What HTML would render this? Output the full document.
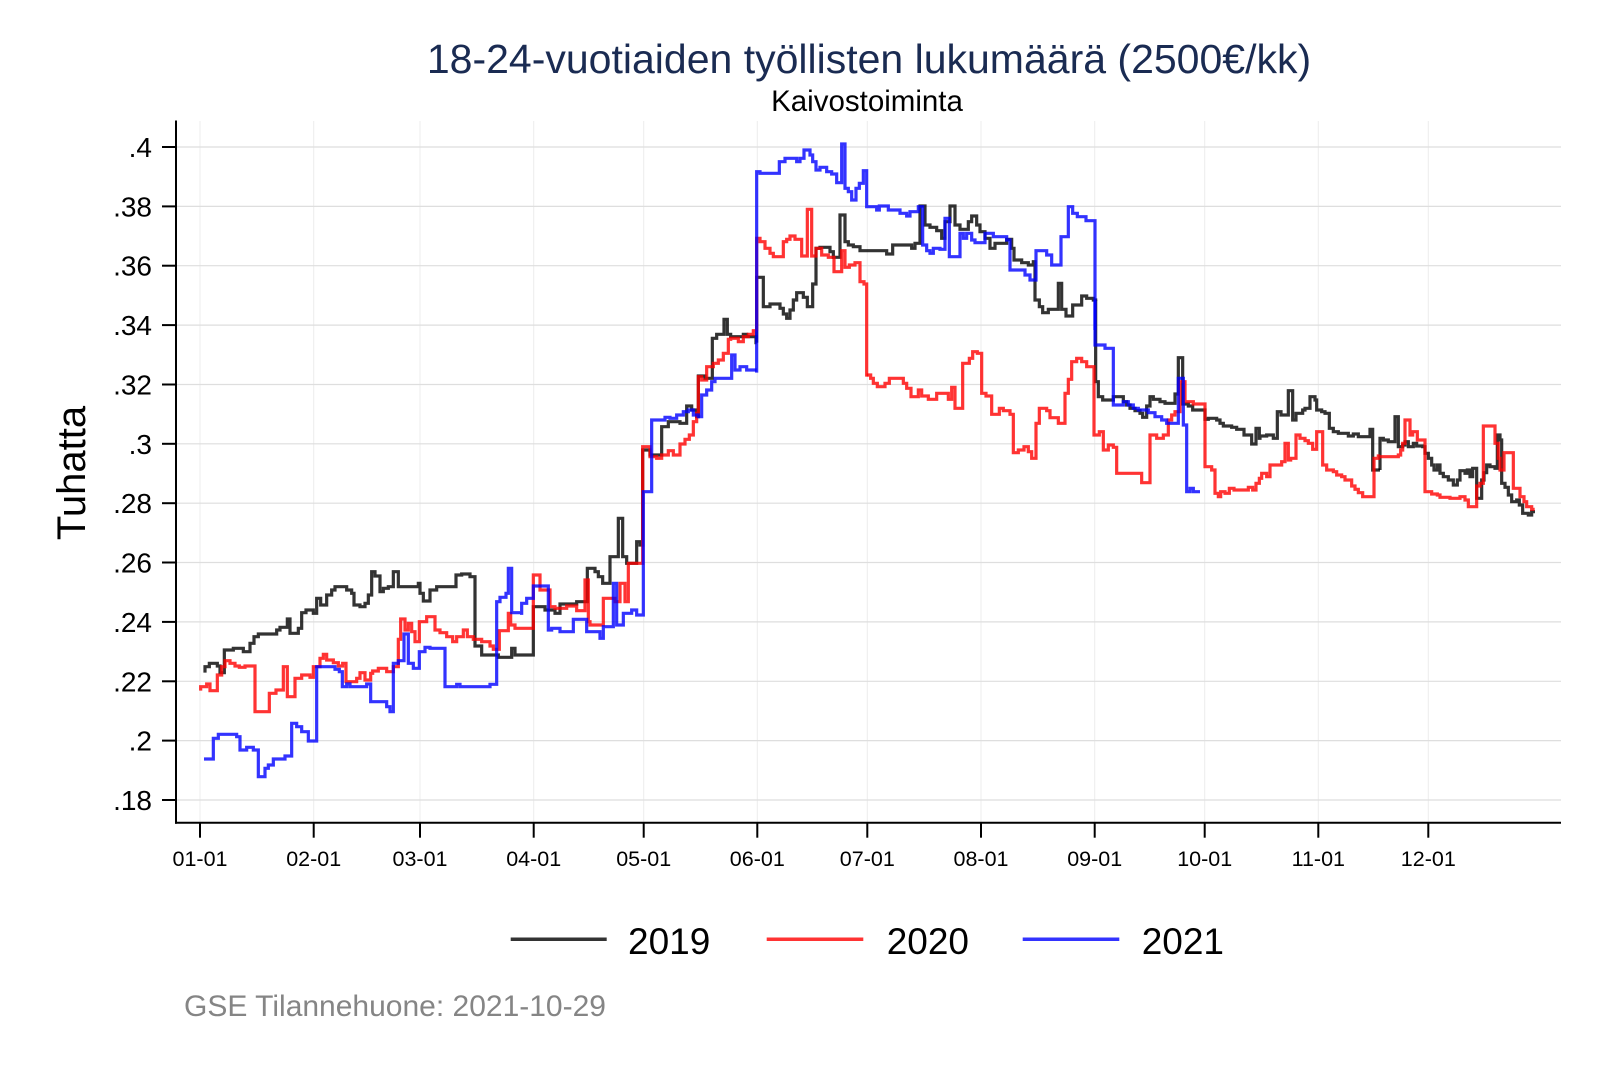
<!DOCTYPE html>
<html>
<head>
<meta charset="utf-8">
<style>
  html, body { margin: 0; padding: 0; background: #ffffff; }
  svg { display: block; }
  text { font-family: "Liberation Sans", Arial, sans-serif; }
</style>
</head>
<body>
<svg width="1600" height="1067" viewBox="0 0 1600 1067" xmlns="http://www.w3.org/2000/svg">
  <rect x="0" y="0" width="1600" height="1067" fill="#ffffff"/>

  <!-- Title -->
  <text x="869" y="73" font-size="41" fill="#1a2b52" text-anchor="middle">18-24-vuotiaiden työllisten lukumäärä (2500€/kk)</text>
  <text x="867" y="111" font-size="29.5" fill="#000" text-anchor="middle">Kaivostoiminta</text>

  <!-- Vertical gridlines -->
  <g stroke="#ececec" stroke-width="1">
    <line x1="200" y1="121" x2="200" y2="822"/>
    <line x1="313.7" y1="121" x2="313.7" y2="822"/>
    <line x1="420" y1="121" x2="420" y2="822"/>
    <line x1="533.7" y1="121" x2="533.7" y2="822"/>
    <line x1="643.7" y1="121" x2="643.7" y2="822"/>
    <line x1="757.3" y1="121" x2="757.3" y2="822"/>
    <line x1="867.3" y1="121" x2="867.3" y2="822"/>
    <line x1="981" y1="121" x2="981" y2="822"/>
    <line x1="1094.7" y1="121" x2="1094.7" y2="822"/>
    <line x1="1204.7" y1="121" x2="1204.7" y2="822"/>
    <line x1="1318.3" y1="121" x2="1318.3" y2="822"/>
    <line x1="1428.3" y1="121" x2="1428.3" y2="822"/>
  </g>
  <!-- Horizontal gridlines -->
  <g stroke="#dedede" stroke-width="1.2">
    <line x1="176" y1="147" x2="1561" y2="147"/>
    <line x1="176" y1="206.4" x2="1561" y2="206.4"/>
    <line x1="176" y1="265.7" x2="1561" y2="265.7"/>
    <line x1="176" y1="325.1" x2="1561" y2="325.1"/>
    <line x1="176" y1="384.5" x2="1561" y2="384.5"/>
    <line x1="176" y1="443.8" x2="1561" y2="443.8"/>
    <line x1="176" y1="503.2" x2="1561" y2="503.2"/>
    <line x1="176" y1="562.5" x2="1561" y2="562.5"/>
    <line x1="176" y1="621.9" x2="1561" y2="621.9"/>
    <line x1="176" y1="681.3" x2="1561" y2="681.3"/>
    <line x1="176" y1="740.6" x2="1561" y2="740.6"/>
    <line x1="176" y1="800" x2="1561" y2="800"/>
  </g>

  <!-- Axes -->
  <g stroke="#000" stroke-width="2">
    <line x1="176" y1="120.5" x2="176" y2="823.7"/>
    <line x1="175" y1="822.7" x2="1561" y2="822.7"/>
    <!-- y ticks -->
    <line x1="162" y1="147" x2="176" y2="147"/>
    <line x1="162" y1="206.4" x2="176" y2="206.4"/>
    <line x1="162" y1="265.7" x2="176" y2="265.7"/>
    <line x1="162" y1="325.1" x2="176" y2="325.1"/>
    <line x1="162" y1="384.5" x2="176" y2="384.5"/>
    <line x1="162" y1="443.8" x2="176" y2="443.8"/>
    <line x1="162" y1="503.2" x2="176" y2="503.2"/>
    <line x1="162" y1="562.5" x2="176" y2="562.5"/>
    <line x1="162" y1="621.9" x2="176" y2="621.9"/>
    <line x1="162" y1="681.3" x2="176" y2="681.3"/>
    <line x1="162" y1="740.6" x2="176" y2="740.6"/>
    <line x1="162" y1="800" x2="176" y2="800"/>
    <!-- x ticks -->
    <line x1="200" y1="822.7" x2="200" y2="837.7"/>
    <line x1="313.7" y1="822.7" x2="313.7" y2="837.7"/>
    <line x1="420" y1="822.7" x2="420" y2="837.7"/>
    <line x1="533.7" y1="822.7" x2="533.7" y2="837.7"/>
    <line x1="643.7" y1="822.7" x2="643.7" y2="837.7"/>
    <line x1="757.3" y1="822.7" x2="757.3" y2="837.7"/>
    <line x1="867.3" y1="822.7" x2="867.3" y2="837.7"/>
    <line x1="981" y1="822.7" x2="981" y2="837.7"/>
    <line x1="1094.7" y1="822.7" x2="1094.7" y2="837.7"/>
    <line x1="1204.7" y1="822.7" x2="1204.7" y2="837.7"/>
    <line x1="1318.3" y1="822.7" x2="1318.3" y2="837.7"/>
    <line x1="1428.3" y1="822.7" x2="1428.3" y2="837.7"/>
  </g>

  <!-- Y tick labels -->
  <g font-size="28" fill="#000" text-anchor="end">
    <text x="152" y="157">.4</text>
    <text x="152" y="216.4">.38</text>
    <text x="152" y="275.7">.36</text>
    <text x="152" y="335.1">.34</text>
    <text x="152" y="394.5">.32</text>
    <text x="152" y="453.8">.3</text>
    <text x="152" y="513.2">.28</text>
    <text x="152" y="572.5">.26</text>
    <text x="152" y="631.9">.24</text>
    <text x="152" y="691.3">.22</text>
    <text x="152" y="750.6">.2</text>
    <text x="152" y="810">.18</text>
  </g>

  <!-- Y axis title -->
  <text transform="translate(85,473) rotate(-90)" font-size="40" fill="#000" text-anchor="middle">Tuhatta</text>

  <!-- X tick labels -->
  <g font-size="21.5" fill="#000" text-anchor="middle">
    <text x="200" y="866">01-01</text>
    <text x="313.7" y="866">02-01</text>
    <text x="420" y="866">03-01</text>
    <text x="533.7" y="866">04-01</text>
    <text x="643.7" y="866">05-01</text>
    <text x="757.3" y="866">06-01</text>
    <text x="867.3" y="866">07-01</text>
    <text x="981" y="866">08-01</text>
    <text x="1094.7" y="866">09-01</text>
    <text x="1204.7" y="866">10-01</text>
    <text x="1318.3" y="866">11-01</text>
    <text x="1428.3" y="866">12-01</text>
  </g>

  <!-- ===== Series 2019 (dark) ===== -->
  <g fill="none" stroke="#000000" stroke-opacity="0.8" stroke-width="3.2" stroke-linejoin="miter">
    <g transform="translate(180,540) scale(0.333333)">
      <path vector-effect="non-scaling-stroke" d="M75,398 V380 H88 V370 H112 V378 H120 V398 H133 V330 H160 V325 H190 V335 H210 V310 H222 V290 H235 V282 H290 V270 H300 V262 H322 V237 H330 V280 H355 V265 H365 V218 H378 V210 H400 V220 H410 V175 H422 V195 H440 V165 H455 V150 H465 V140 H500 V150 H515 V160 H522 V195 H540 V200 H555 V190 H565 V165 H575 V95 H585 V108 H600 V155 H610 V145 H625 V140 H640 V95 H655 V140 H715 V130 H720 V160 H730 V183 H750 V150 H770 V140 H828 V105 H845 V102 H870 V110 H885 V318 H905 V345 H955 V352 H995 V325 H1005 V345 H1020"/>
    </g>
    <g transform="translate(480,300) scale(0.333333)">
      <path vector-effect="non-scaling-stroke" d="M120,1065 H160 V920 H195 V930 H225 V940 H240 V912 H290 V905 H322 V805 H345 V815 H355 V830 H368 V850 H390 V770 H415 V655 H428 V770 H440 V790 H470 V725 H480 V735 H488 V450 H510 V465 H545 V380 H565 V365 H600 V370 H620 V318 H635 V330 H650 V350 H655 V228 H675 V235 H697 V115 H710 V103 H732 V58 H742 V103 H752 V110 H790 V103 H800 V110 H828 V128 H830"/>
    </g>
    <g transform="translate(730,130) scale(0.333333)">
      <path vector-effect="non-scaling-stroke" d="M80,638 V442 H100 V530 H120 V522 H150 V535 H160 V552 H170 V565 H180 V540 H190 V510 H200 V488 H220 V502 H232 V530 H248 V462 H258 V355 H270 V352 H300 V365 H310 V382 H330 V255 H345 V335 H355 V345 H370 V350 H390 V362 H470 V372 H488 V345 H545 V355 H555 V340 H570 V228 H585 V285 H600 V292 H620 V302 H635 V325 H645 V275 H660 V228 H675 V285 H690 V298 H715 V275 H725 V258 H740 V285 H750 V305 H765 V325 H780 V355 H795 V340 H810"/>
    </g>
    <g transform="translate(1000,190) scale(0.333333)">
      <path vector-effect="non-scaling-stroke" d="M0,160 H20 V148 H35 V175 H42 V210 H65 V218 H85 V225 H100 V215 H105 V330 H118 V350 H128 V368 H145 V358 H175 V280 H185 V358 H198 V378 H218 V345 H245 V318 H260 V325 H280 V330 H287 V332"/>
    </g>
    <g transform="translate(840,320) scale(0.333333)">
      <path vector-effect="non-scaling-stroke" d="M767,-60 V185 H775 V230 H788 V240 H820 V230 H850 V245 H860 V255 H870 V265 H885 V272 H900 V280 H908 V292 H920 V258 H930 V230 H940 V238 H960 V245 H975 V250 H1005 V222 H1015 V113 H1028 V252 H1045 V258 H1058 V270 H1080"/>
    </g>
    <g transform="translate(1170,370) scale(0.333333)">
      <path vector-effect="non-scaling-stroke" d="M90,120 H105 V148 H115 V145 H140 V150 H150 V160 H160 V168 H185 V172 H200 V178 H222 V195 H245 V222 H258 V175 H268 V205 H270 V198 H290 V195 H310 V205 H322 V125 H333 V135 H355 V62 H368 V150 H378 V130 H398 V120 H405 V115 H420 V80 H435 V90 H440 V120 H455 V125 H465 V130 H478 V175 H490 V185 H505 V190 H535 V198 H550 V192 H565 V200 H600 V178 H608 V300 H630"/>
    </g>
    <g transform="translate(1380,400) scale(0.333333)">
      <path vector-effect="non-scaling-stroke" d="M0,210 V115 H10 V120 H25 V125 H45 V50 H55 V140 H68 V135 H75 V125 H85 V140 H100 V130 H110 V138 H128 V140 H135 V160 H145 V175 H155 V195 H162 V210 H172 V195 H180 V220 H190 V230 H205 V240 H220 V255 H232 V240 H240 V212 H255 V220 H262 V210 H270 V230 H278 V205 H290 V295 H305 V240 H312 V218 H320 V195 H330 V200 H345 V205 H352 V105 H360 V120 H365 V250 H375 V262 H385 V285 H395 V305 H410 V300 H418 V315 H428 V340 H445 V345 H455 V335 H465"/>
    </g>
  </g>

  <!-- ===== Series 2020 (red) ===== -->
  <g fill="none" stroke="#ff0000" stroke-opacity="0.8" stroke-width="3.2" stroke-linejoin="miter">
    <g transform="translate(180,540) scale(0.333333)">
      <path vector-effect="non-scaling-stroke" d="M62,452 V440 H80 V432 H90 V452 H112 V405 H125 V380 H135 V362 H150 V370 H165 V378 H178 V382 H195 V378 H225 V515 H268 V460 H288 V450 H310 V380 H322 V470 H345 V415 H365 V405 H390 V412 H400 V380 H420 V355 H430 V343 H440 V360 H460 V368 H475 V378 H488 V370 H498 V425 H530 V415 H540 V398 H555 V420 H572 V400 H578 V393 H595 V385 H620 V395 H640 V380 H655 V298 H662 V237 H675 V270 H685 V250 H695 V275 H705 V305 H718 V245 H740 V230 H765 V270 H780 V278 H800 V290 H818 V305 H830 V290 H850 V270 H862 V290 H880 V298 H905 V305 H930 V318 H940 V328 H958 V272 H985 V220 H992 V255 H1005 V265 H1020"/>
    </g>
    <g transform="translate(480,300) scale(0.333333)">
      <path vector-effect="non-scaling-stroke" d="M120,985 H160 V825 H180 V870 H210 V920 H225 V925 H260 V918 H290 V932 H315 V840 H325 V965 H330 V975 H370 V895 H405 V905 H420 V850 H435 V905 H445 V790 H488 V440 H510 V470 H530 V475 H545 V465 H565 V452 H580 V465 H600 V432 H615 V418 H628 V405 H640 V365 H650 V340 H655 V230 H665 V240 H680 V200 H700 V190 H715 V180 H730 V160 H745 V118 H752 V115 H775 V125 H790 V110 H805 V103 H820 V92 H830"/>
    </g>
    <g transform="translate(730,130) scale(0.333333)">
      <path vector-effect="non-scaling-stroke" d="M80,602 V325 H90 V335 H105 V355 H120 V370 H130 V380 H160 V335 H170 V328 H180 V318 H195 V328 H215 V378 H232 V238 H245 V378 H258 V355 H275 V375 H295 V382 H312 V425 H335 V362 H345 V412 H358 V405 H375 V398 H390 V455 H402 V462 H410 V740"/>
    </g>
    <g transform="translate(840,320) scale(0.333333)">
      <path vector-effect="non-scaling-stroke" d="M80,165 H92 V175 H100 V190 H112 V200 H135 V190 H148 V175 H190 V190 H200 V205 H213 V230 H235 V210 H245 V228 H265 V238 H290 V220 H325 V238 H335 V202 H345 V265 H368 V130 H388 V115 H398 V95 H412 V100 H425 V220 H438 V228 H455 V283 H478 V265 H490 V272 H510 V283 H520 V398 H535 V390 H552 V380 H565 V395 H575 V415 H588 V310 H598 V265 H620 V272 H630 V293 H655 V310 H675 V220 H685 V178 H695 V125 H710 V115 H725 V125 H740 V140 H762 V345 H778 V335 H790 V390 H805 V375 H820 V382 H830 V460 H905 V488 H930 V345 H950 V355 H970 V345 H985 V300 H995 V285 H1005 V275 H1020 V185 H1035 V245 H1060 V252 H1080"/>
    </g>
    <g transform="translate(1170,370) scale(0.333333)">
      <path vector-effect="non-scaling-stroke" d="M90,102 H105 V290 H125 V300 H135 V370 H145 V380 H152 V365 H165 V370 H178 V355 H192 V360 H235 V352 H248 V360 H258 V340 H268 V325 H275 V310 H290 V320 H300 V285 H335 V275 H345 V220 H355 V270 H362 V265 H378 V195 H390 V205 H405 V212 H415 V220 H428 V238 H440 V185 H458 V285 H470 V300 H490 V305 H500 V315 H515 V320 H525 V330 H545 V348 H555 V358 H565 V368 H578 V380 H612 V265 H625 V258 H630"/>
    </g>
    <g transform="translate(1380,400) scale(0.333333)">
      <path vector-effect="non-scaling-stroke" d="M0,170 H55 V165 H62 V150 H68 V130 H75 V60 H90 V105 H98 V95 H112 V120 H135 V275 H155 V282 H172 V285 H180 V292 H210 V295 H240 V290 H255 V300 H265 V320 H290 V258 H300 V250 H310 V78 H345 V130 H355 V175 H360 V210 H372 V158 H400 V265 H420 V290 H432 V305 H440 V320 H455 V328 H464"/>
    </g>
  </g>

  <!-- ===== Series 2021 (blue) ===== -->
  <g fill="none" stroke="#0000ff" stroke-opacity="0.8" stroke-width="3.2" stroke-linejoin="miter">
    <g transform="translate(180,540) scale(0.333333)">
      <path vector-effect="non-scaling-stroke" d="M72,657 H100 V595 H115 V583 H170 V590 H180 V630 H200 V622 H220 V630 H235 V710 H255 V685 H265 V675 H280 V657 H315 V648 H335 V550 H350 V560 H365 V575 H385 V603 H410 V380 H465 V388 H478 V395 H487 V440 H500 V432 H510 V440 H560 V432 H572 V485 H620 V500 H630 V515 H640 V370 H655 V362 H672 V282 H685 V370 H700 V385 H718 V335 H735 V322 H750 V325 H795 V440 H830 V433 H840 V440 H930 V433 H950 V185 H960 V172 H978 V160 H985 V85 H995 V218 H1020"/>
    </g>
    <g transform="translate(480,300) scale(0.333333)">
      <path vector-effect="non-scaling-stroke" d="M120,940 H125 V910 H140 V895 H160 V858 H205 V990 H215 V985 H240 V995 H280 V958 H320 V995 H360 V1015 H370 V980 H400 V850 H410 V975 H430 V940 H455 V930 H470 V945 H490 V575 H515 V360 H555 V352 H570 V355 H590 V345 H610 V335 H625 V330 H640 V345 H655 V350 H665 V285 H680 V270 H695 V245 H705 V235 H755 V165 H765 V210 H780 V200 H800 V210 H830"/>
    </g>
    <g transform="translate(730,130) scale(0.333333)">
      <path vector-effect="non-scaling-stroke" d="M80,728 V125 H90 V130 H148 V95 H165 V85 H200 V95 H210 V85 H222 V60 H240 V75 H248 V95 H258 V120 H270 V112 H290 V125 H305 V132 H320 V158 H330 V158 H335 V42 H345 V175 H355 V185 H365 V210 H378 V175 H388 V160 H400 V122 H410 V230 H440 V240 H448 V228 H475 V240 H510 V250 H530 V258 H540 V245 H565 V230 H578 V345 H590 V362 H600 V370 H610 V355 H630 V358 H645 V265 H658 V380 H690 V310 H700 V325 H710 V310 H725 V330 H735 V338 H765 V310 H790 V320 H810"/>
    </g>
    <g transform="translate(1000,190) scale(0.333333)">
      <path vector-effect="non-scaling-stroke" d="M0,140 H20 V150 H30 V240 H75 V255 H90 V270 H108 V182 H140 V195 H155 V225 H183 V140 H205 V50 H218 V70 H232 V80 H258 V92 H285 V420"/>
    </g>
    <g transform="translate(840,320) scale(0.333333)">
      <path vector-effect="non-scaling-stroke" d="M765,-60 V75 H795 V85 H820 V255 H850 V245 H865 V255 H880 V265 H895 V270 H925 V278 H945 V290 H965 V300 H980 V310 H1015 V175 H1030 V315 H1040 V515 H1050 V505 H1060 V515 H1080"/>
    </g>
  </g>

  <!-- Legend -->
  <g stroke-width="3.5">
    <line x1="510.7" y1="939.3" x2="606.7" y2="939.3" stroke="#333333"/>
    <line x1="766.7" y1="939.3" x2="863.3" y2="939.3" stroke="#ff3333"/>
    <line x1="1022.7" y1="939.3" x2="1119.3" y2="939.3" stroke="#3333ff"/>
  </g>
  <g font-size="37" fill="#000">
    <text x="628" y="954">2019</text>
    <text x="886.7" y="954">2020</text>
    <text x="1141.7" y="954">2021</text>
  </g>

  <!-- Note -->
  <text x="184" y="1016" font-size="30" fill="#858585">GSE Tilannehuone: 2021-10-29</text>
</svg>
</body>
</html>
